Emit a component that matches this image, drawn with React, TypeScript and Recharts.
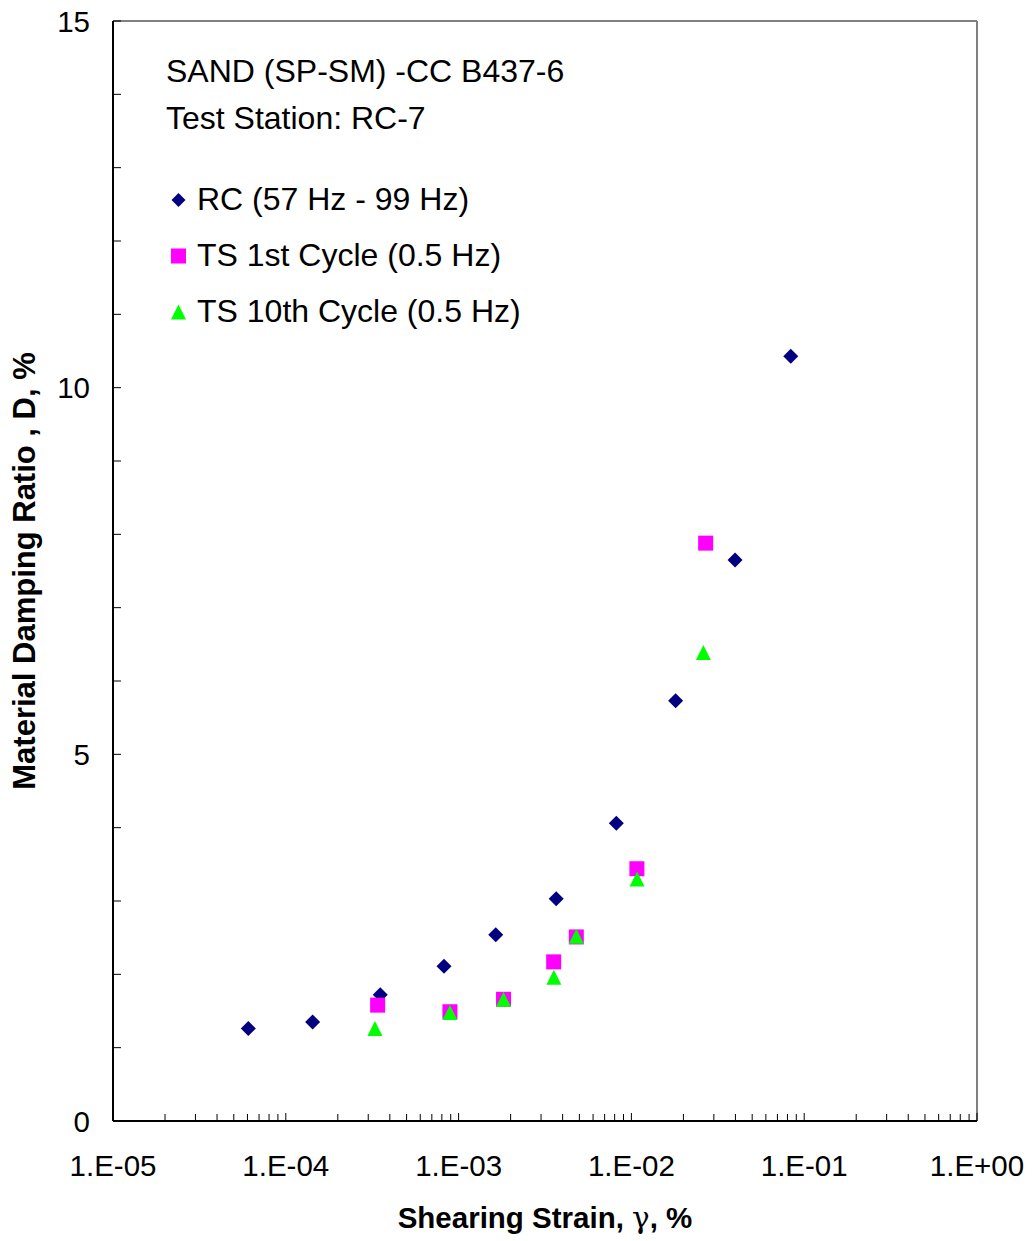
import {
  ScatterChart, Scatter, XAxis, YAxis, ReferenceLine, Label,
} from "recharts";

// shearing strain (%) / damping ratio (%) pairs per test type
const RC_STRAIN = [6.07e-5, 1.43e-4, 3.52e-4, 8.23e-4, 1.64e-3, 3.67e-3, 8.18e-3, 0.01803, 0.0398, 0.0836];
const RC_DAMPING = [1.26, 1.35, 1.72, 2.11, 2.54, 3.03, 4.06, 5.73, 7.65, 10.43];

const TS1_STRAIN = [3.4e-4, 8.91e-4, 1.82e-3, 3.55e-3, 4.8e-3, 0.01076, 0.0269];
const TS1_DAMPING = [1.58, 1.49, 1.66, 2.17, 2.51, 3.44, 7.88];

const TS10_STRAIN = [3.28e-4, 8.91e-4, 1.82e-3, 3.56e-3, 4.8e-3, 0.01078, 0.0261];
const TS10_DAMPING = [1.26, 1.48, 1.66, 1.96, 2.52, 3.3, 6.39];

const X_MAJOR = [1e-5, 1e-4, 1e-3, 1e-2, 1e-1, 1];
const X_LABELS = ["1.E-05", "1.E-04", "1.E-03", "1.E-02", "1.E-01", "1.E+00"];
const X_MINOR_STEPS = [2, 3, 4, 5, 6, 7, 8, 9];

const Y_TICKS = [0, 1, 2, 3, 4, 5, 6, 7, 8, 9, 10, 11, 12, 13, 14, 15];
const Y_LABELED = [0, 5, 10, 15];

const TITLE_LINES = ["SAND (SP-SM) -CC B437-6", "Test Station: RC-7"];
const SERIES = [
  { name: "RC (57 Hz - 99 Hz)", color: "#000080", kind: "diamond" },
  { name: "TS 1st Cycle (0.5 Hz)", color: "#FF00FF", kind: "square" },
  { name: "TS 10th Cycle (0.5 Hz)", color: "#00FF00", kind: "triangle" },
];

const FONT = "'Liberation Sans', Arial, sans-serif";

const toPoints = (xs: number[], ys: number[]) => xs.map((x, i) => ({ x, y: ys[i] }));

const xTicks: number[] = [];
X_MAJOR.forEach((d, i) => {
  xTicks.push(d);
  if (i < X_MAJOR.length - 1) X_MINOR_STEPS.forEach((m) => xTicks.push(m * d));
});

function Marker({ kind, color, cx, cy, r = 7.5 }: { kind: string; color: string; cx: number; cy: number; r?: number }) {
  if (kind === "diamond") {
    return <polygon points={`${cx},${cy - r} ${cx + r},${cy} ${cx},${cy + r} ${cx - r},${cy}`} fill={color} />;
  }
  if (kind === "square") {
    return <rect x={cx - r} y={cy - r} width={r * 2} height={r * 2} fill={color} />;
  }
  return <polygon points={`${cx},${cy - r} ${cx + r},${cy + r} ${cx - r},${cy + r}`} fill={color} />;
}

function XTick(props: any) {
  const { x, y, payload } = props;
  const idx = X_MAJOR.findIndex((v) => Math.abs(v - payload.value) / v < 1e-9);
  return (
    <g>
      <line x1={x} x2={x} y1={y} y2={y - (idx >= 0 ? 8 : 7)} stroke="#000" strokeWidth={1} />
      {idx >= 0 && (
        <text x={x} y={y + 55} textAnchor="middle" fontSize={29.5} fontFamily={FONT} fill="#000">
          {X_LABELS[idx]}
        </text>
      )}
    </g>
  );
}

function YTick(props: any) {
  const { x, y, payload } = props;
  const labeled = Y_LABELED.includes(payload.value);
  return (
    <g>
      <line x1={x} x2={x + 8} y1={y} y2={y} stroke="#000" strokeWidth={1} />
      {labeled && (
        <text x={x - 23} y={y + 10.5} textAnchor="end" fontSize={29.5} fontFamily={FONT} fill="#000">
          {payload.value}
        </text>
      )}
    </g>
  );
}

function YTitle({ viewBox }: any) {
  const cy = viewBox.y + viewBox.height / 2;
  return (
    <text x={35} y={cy} transform={`rotate(-90 35 ${cy})`} textAnchor="middle"
      fontSize={31} fontWeight="bold" fontFamily={FONT} fill="#000">
      Material Damping Ratio , D, %
    </text>
  );
}

function XTitle({ viewBox }: any) {
  const cx = viewBox.x + viewBox.width / 2;
  return (
    <text x={cx} y={1228} textAnchor="middle" fontSize={29.5} fontWeight="bold" fontFamily={FONT} fill="#000">
      Shearing Strain, <tspan fontFamily="'DejaVu Serif', serif" fontWeight="normal">γ</tspan>, %
    </text>
  );
}

export default function App() {
  const data = [
    toPoints(RC_STRAIN, RC_DAMPING),
    toPoints(TS1_STRAIN, TS1_DAMPING),
    toPoints(TS10_STRAIN, TS10_DAMPING),
  ];

  return (
    <div style={{ position: "relative", width: 1032, height: 1241, background: "#fff" }}>
      <style>{"body{margin:0}"}</style>
      <ScatterChart width={1032} height={1241} margin={{ top: 21, right: 55, bottom: 0, left: 0 }}>
        <XAxis type="number" dataKey="x" scale="log" domain={[1e-5, 1]} allowDataOverflow
          ticks={xTicks} interval={0} tick={<XTick />} tickLine={false} tickSize={0} tickMargin={0}
          axisLine={{ stroke: "#000", strokeWidth: 2 }} height={120}>
          <Label content={<XTitle />} />
        </XAxis>
        <YAxis type="number" dataKey="y" domain={[0, 15]} ticks={Y_TICKS} interval={0}
          tick={<YTick />} tickLine={false} tickSize={0} tickMargin={0}
          axisLine={{ stroke: "#000", strokeWidth: 2 }} width={113}>
          <Label content={<YTitle />} />
        </YAxis>
        <ReferenceLine y={15} stroke="#808080" strokeWidth={2} />
        <ReferenceLine x={1} stroke="#808080" strokeWidth={2} />
        {SERIES.map((s, i) => (
          <Scatter key={s.name} name={s.name} data={data[i]} isAnimationActive={false}
            shape={(p: any) => <Marker kind={s.kind} color={s.color} cx={p.cx} cy={p.cy} />} />
        ))}
      </ScatterChart>
      <svg width={1032} height={1241} style={{ position: "absolute", left: 0, top: 0, pointerEvents: "none" }}>
        {TITLE_LINES.map((t, i) => (
          <text key={t} x={166} y={82 + i * 46.5} fontSize={32} fontFamily={FONT} fill="#000">{t}</text>
        ))}
        {SERIES.map((s, i) => (
          <g key={s.name}>
            <Marker kind={s.kind} color={s.color} cx={178.5} cy={200 + i * 56} r={s.kind === "diamond" ? 7 : 7.5} />
            <text x={197} y={210 + i * 56} fontSize={32} fontFamily={FONT} fill="#000">{s.name}</text>
          </g>
        ))}
      </svg>
    </div>
  );
}
